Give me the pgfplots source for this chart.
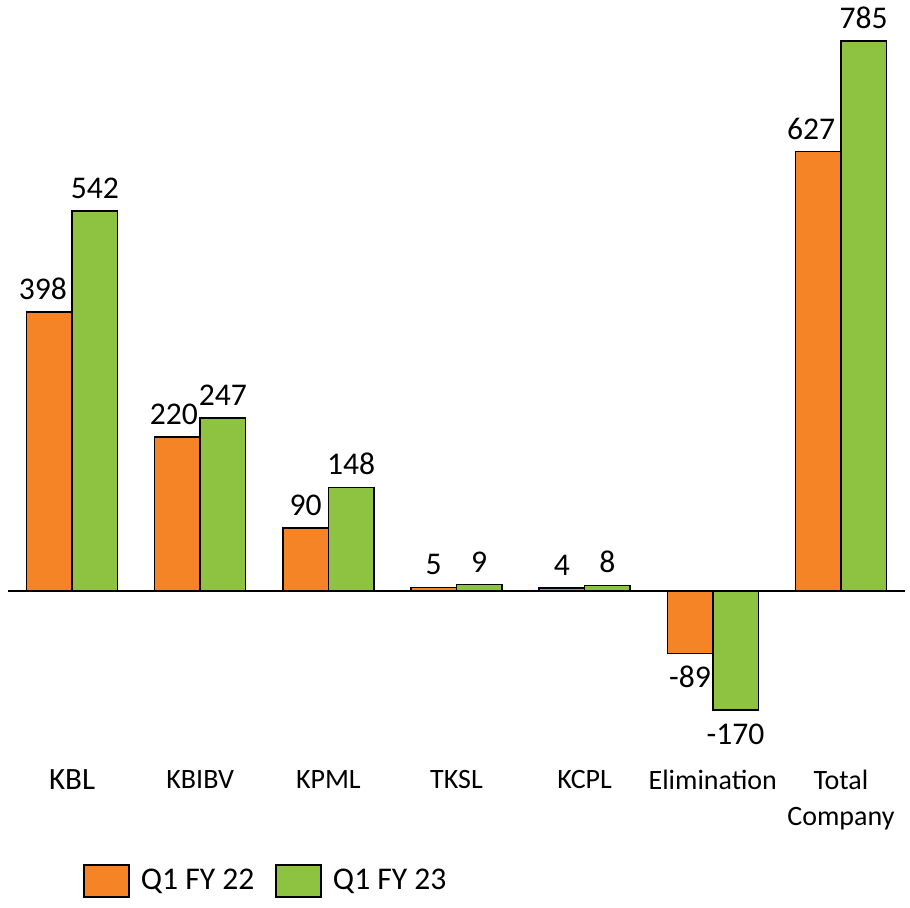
\documentclass[border=0pt]{standalone}
\usepackage{pgfplots}
\pgfplotsset{compat=1.18}
\usepackage{pgfplotstable}
\usepackage{fontspec}
\setmainfont{Carlito}
\definecolor{barorange}{HTML}{F58426}
\definecolor{bargreen}{HTML}{8DC341}

\pgfplotstableread{
x y lbl dx dy
0 398 398 -3.25 2.5
1 220 220 -1.75 2.5
2 90 90 0 2.5
3 5 5 0 2.5
4 4 4 0 2.5
5 -89 -89 0 -21
6 627 627 -3.5 2.5
}\qonefytwentytwo
\pgfplotstableread{
x y lbl dx dy
0 542 542 0 2.5
1 247 247 0 2.5
2 148 148 0 2.5
3 9 9 0 2.5
4 8 8 0 2.5
5 -170 -170 0 -21
6 785 785 0 2.5
}\qonefytwentythree

\begin{document}
\begin{tikzpicture}
\begin{axis}[
  scale only axis,
  width=448.5pt, height=380pt,
  xmin=-0.5, xmax=6.5,
  ymin=-241.2, ymax=843.5,
  axis line style={draw=none},
  ytick=\empty,
  xtick=data,
  xticklabels={{\fontsize{15.5}{18}\selectfont KBL},KBIBV,KPML,TKSL,KCPL,Elimination,{Total\\Company}},
  xticklabel style={align=center, font=\fontsize{14}{18}\selectfont, yshift=-1.5pt},
  major tick length=0pt,
  ybar=0pt,
  bar width=22.75pt,
  nodes near coords,
  point meta=explicit symbolic,
  visualization depends on={\thisrow{dx} \as \lbldx},
  visualization depends on={\thisrow{dy} \as \lbldy},
  nodes near coords style={font=\fontsize{15.8}{18}\selectfont, xshift=\lbldx pt, yshift=\lbldy pt},
  clip=false,
  legend columns=2,
  legend style={draw=none, at={(axis description cs:0.077,-0.159)}, anchor=west,
    font=\fontsize{15.8}{18}\selectfont,
    /tikz/every odd column/.append style={column sep=3.5pt},
    /tikz/every even column/.append style={column sep=8.5pt}},
  legend image code/.code={\draw[#1,draw=black,line width=0.75pt] (0pt,-8pt) rectangle (22.5pt,8pt);},
]
\addplot[fill=barorange, draw=black, line width=0.75pt] table[x=x,y=y,meta=lbl] {\qonefytwentytwo};
\addplot[fill=bargreen, draw=black, line width=0.75pt] table[x=x,y=y,meta=lbl] {\qonefytwentythree};
\legend{Q1 FY 22, Q1 FY 23}
\draw[black, line width=0.6pt] (axis cs:-0.5,0) -- (axis cs:6.5,0);
\end{axis}
\pgfresetboundingbox
\path[use as bounding box] ([xshift=-4pt,yshift=-73.5pt]current axis.south west) rectangle ([xshift=2.5pt]current axis.north east);
\end{tikzpicture}
\end{document}
